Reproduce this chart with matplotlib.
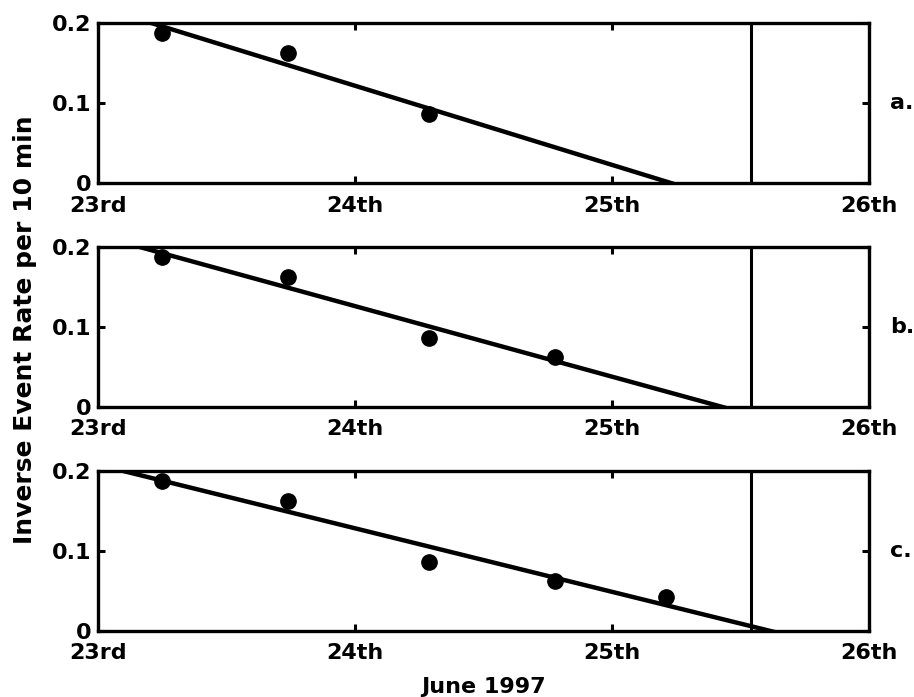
import numpy as np
import matplotlib
matplotlib.use('Agg')
import matplotlib.pyplot as plt

# event times (days in June 1997) and inverse event rate per 10 min
days = [23.25, 23.74, 24.29, 24.78, 25.21]
inv_rate = [0.188, 0.162, 0.086, 0.063, 0.042]
n_points = [3, 4, 5]          # points used in panels a, b, c
panel_labels = ['a.', 'b.', 'c.']
event_day = 25.54             # vertical marker
xticks = [23, 24, 25, 26]
xticklabels = ['23rd', '24th', '25th', '26th']
yticks = [0, 0.1, 0.2]
yticklabels = ['0', '0.1', '0.2']

plt.rcParams['font.family'] = ['DejaVu Sans']
plt.rcParams['font.weight'] = 'bold'

fig = plt.figure(figsize=(9.14, 6.97), dpi=100)
bottoms = [0.7374, 0.4161, 0.0947]
fs = 16

for i, n in enumerate(n_points):
    ax = fig.add_axes([0.1072, bottoms[i], 0.8435, 0.2296])
    x = np.array(days[:n])
    y = np.array(inv_rate[:n])
    p = np.polyfit(x, y, 1)
    xl = np.array([23.0, 26.0])
    ax.plot(xl, np.polyval(p, xl), color='black', lw=3.2, solid_capstyle='butt')
    ax.plot(x, y, 'o', color='black', ms=11, clip_on=False)
    ax.axvline(event_day, color='black', lw=2.2)
    ax.set_xlim(23, 26)
    ax.set_ylim(0, 0.2)
    ax.set_xticks(xticks)
    ax.set_xticklabels(xticklabels, fontsize=fs, fontweight='bold')
    ax.set_yticks(yticks)
    ax.set_yticklabels(yticklabels, fontsize=fs, fontweight='bold')
    ax.tick_params(direction='in', length=5, width=2.2, top=True, right=True)
    ax.tick_params(axis='y', pad=5)
    ax.tick_params(axis='x', pad=9)
    # lift the "0" label a little so it clears the date labels
    ax.get_yticklabels()[0].set_y(0.003)
    for s in ax.spines.values():
        s.set_linewidth(2.4)
    ax.text(1.027, 0.5, panel_labels[i], transform=ax.transAxes, fontsize=fs,
            fontweight='bold', va='center', ha='left')
    if i == 2:
        ax.set_xlabel('June 1997', fontsize=fs, fontweight='bold', labelpad=10)

fig.text(0.027, 0.527, 'Inverse Event Rate per 10 min', rotation=90,
         fontsize=18, fontweight='bold', va='center', ha='center')

fig.savefig('out.png', dpi=100)
